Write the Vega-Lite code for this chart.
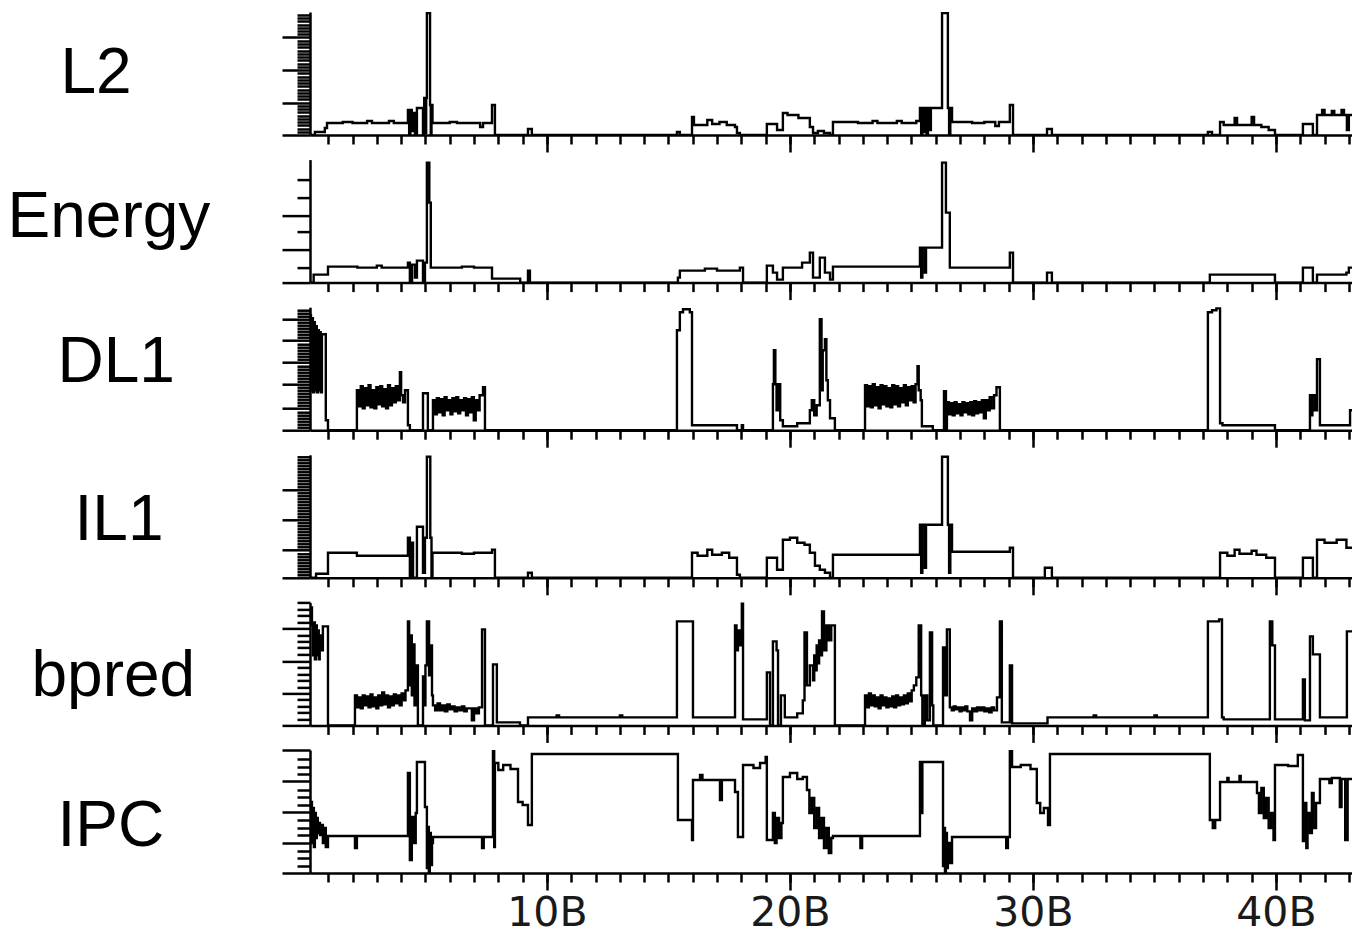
{
"$schema": "https://vega.github.io/schema/vega-lite/v6.json",
"autosize": {"type": "pad"},
"padding": {"left": 7, "top": 12, "right": 0, "bottom": 0},
"background": "white",
"spacing": 24.6,
"bounds": "flush",
"config": {"view": {"stroke": null}, "line": {"strokeWidth": 2.4}, "axis": {"grid": false, "tickColor": "black", "domainColor": "black", "tickWidth": 2.5, "domainWidth": 2.5, "titleColor": "black", "titleFont": "Liberation Sans", "titleFontWeight": "normal", "labelColor": "#1a1a1a", "labelFont": "DejaVu Sans"}},
"datasets": {
"L2": [{"x":0.25,"v":0},{"x":0.45,"v":3},{"x":0.86,"v":7},{"x":0.95,"v":12},{"x":1.6,"v":13},{"x":2.0,"v":12},{"x":2.6,"v":14},{"x":2.8,"v":12},{"x":3.5,"v":14},{"x":3.7,"v":12},{"x":4.28,"v":25},{"x":4.33,"v":0},{"x":4.38,"v":25},{"x":4.44,"v":4},{"x":4.5,"v":22},{"x":4.57,"v":0},{"x":4.65,"v":27},{"x":4.9,"v":0},{"x":4.95,"v":37},{"x":4.99,"v":2},{"x":5.03,"v":37},{"x":5.06,"v":122},{"x":5.19,"v":30},{"x":5.22,"v":0},{"x":5.25,"v":30},{"x":5.29,"v":12},{"x":6.0,"v":13},{"x":6.3,"v":12},{"x":7.25,"v":8},{"x":7.37,"v":12},{"x":7.74,"v":30},{"x":7.86,"v":0},{"x":9.22,"v":6},{"x":9.38,"v":0},{"x":15.35,"v":3},{"x":15.47,"v":0},{"x":15.97,"v":18},{"x":16.05,"v":10},{"x":16.6,"v":15},{"x":16.8,"v":11},{"x":17.1,"v":13},{"x":17.4,"v":10},{"x":17.74,"v":8},{"x":17.82,"v":2},{"x":17.94,"v":0},{"x":19.05,"v":11},{"x":19.47,"v":5},{"x":19.71,"v":22},{"x":19.9,"v":20},{"x":20.35,"v":17},{"x":20.82,"v":8},{"x":20.95,"v":2},{"x":21.15,"v":4},{"x":21.4,"v":2},{"x":21.65,"v":0},{"x":21.77,"v":13},{"x":22.8,"v":12},{"x":23.4,"v":14},{"x":23.6,"v":12},{"x":24.4,"v":14},{"x":24.6,"v":12},{"x":25.2,"v":14},{"x":25.35,"v":27},{"x":25.4,"v":0},{"x":25.45,"v":27},{"x":25.5,"v":3},{"x":25.56,"v":27},{"x":25.62,"v":0},{"x":25.68,"v":27},{"x":25.74,"v":5},{"x":25.8,"v":27},{"x":26.26,"v":122},{"x":26.5,"v":27},{"x":26.55,"v":0},{"x":26.6,"v":27},{"x":26.67,"v":13},{"x":27.5,"v":12},{"x":28.0,"v":13},{"x":28.45,"v":9},{"x":28.6,"v":13},{"x":29.05,"v":30},{"x":29.18,"v":0},{"x":30.58,"v":6},{"x":30.78,"v":0},{"x":37.2,"v":3},{"x":37.37,"v":0},{"x":37.7,"v":13},{"x":37.85,"v":10},{"x":38.3,"v":17},{"x":38.4,"v":10},{"x":39.0,"v":18},{"x":39.1,"v":10},{"x":39.4,"v":8},{"x":39.7,"v":5},{"x":39.96,"v":0},{"x":41.11,"v":11},{"x":41.52,"v":0},{"x":41.69,"v":20},{"x":41.9,"v":25},{"x":42.0,"v":20},{"x":42.3,"v":24},{"x":42.4,"v":20},{"x":42.7,"v":25},{"x":42.8,"v":20},{"x":42.92,"v":5},{"x":43.0,"v":20},{"x":43.13,"v":20}],
"Energy": [{"x":0.25,"v":0},{"x":0.4,"v":8},{"x":0.99,"v":16},{"x":2.2,"v":15},{"x":3.0,"v":17},{"x":3.2,"v":15},{"x":4.28,"v":20},{"x":4.36,"v":0},{"x":4.45,"v":18},{"x":4.57,"v":5},{"x":4.65,"v":22},{"x":4.9,"v":0},{"x":4.98,"v":20},{"x":5.06,"v":120},{"x":5.16,"v":80},{"x":5.22,"v":15},{"x":6.5,"v":16},{"x":7.0,"v":15},{"x":7.74,"v":4},{"x":8.9,"v":0},{"x":9.22,"v":12},{"x":9.3,"v":0},{"x":15.39,"v":5},{"x":15.47,"v":12},{"x":16.5,"v":14},{"x":17.0,"v":12},{"x":17.94,"v":15},{"x":18.07,"v":0},{"x":19.05,"v":17},{"x":19.3,"v":10},{"x":19.47,"v":3},{"x":19.71,"v":15},{"x":20.5,"v":20},{"x":20.82,"v":30},{"x":20.95,"v":5},{"x":21.23,"v":25},{"x":21.44,"v":10},{"x":21.65,"v":3},{"x":21.77,"v":16},{"x":25.35,"v":35},{"x":25.4,"v":5},{"x":25.45,"v":35},{"x":25.55,"v":10},{"x":25.6,"v":35},{"x":26.26,"v":120},{"x":26.42,"v":70},{"x":26.58,"v":15},{"x":29.05,"v":30},{"x":29.18,"v":0},{"x":30.58,"v":10},{"x":30.78,"v":0},{"x":37.28,"v":8},{"x":39.96,"v":0},{"x":41.11,"v":15},{"x":41.52,"v":0},{"x":41.69,"v":8},{"x":42.9,"v":10},{"x":43.0,"v":15},{"x":43.13,"v":15}],
"DL1": [{"x":0.25,"v":115},{"x":0.29,"v":40},{"x":0.33,"v":112},{"x":0.37,"v":38},{"x":0.41,"v":108},{"x":0.45,"v":40},{"x":0.49,"v":104},{"x":0.53,"v":38},{"x":0.57,"v":100},{"x":0.61,"v":40},{"x":0.65,"v":98},{"x":0.69,"v":38},{"x":0.74,"v":96},{"x":0.9,"v":10},{"x":0.99,"v":0},{"x":2.18,"v":40},{"x":2.26,"v":24},{"x":2.34,"v":44},{"x":2.42,"v":22},{"x":2.5,"v":42},{"x":2.58,"v":25},{"x":2.66,"v":45},{"x":2.74,"v":23},{"x":2.82,"v":40},{"x":2.9,"v":22},{"x":2.98,"v":43},{"x":3.06,"v":26},{"x":3.14,"v":44},{"x":3.22,"v":24},{"x":3.3,"v":41},{"x":3.38,"v":22},{"x":3.46,"v":45},{"x":3.54,"v":25},{"x":3.62,"v":42},{"x":3.7,"v":28},{"x":3.78,"v":44},{"x":3.86,"v":30},{"x":3.95,"v":58},{"x":4.0,"v":35},{"x":4.08,"v":28},{"x":4.16,"v":40},{"x":4.28,"v":5},{"x":4.36,"v":0},{"x":4.9,"v":37},{"x":5.1,"v":0},{"x":5.31,"v":30},{"x":5.39,"v":16},{"x":5.47,"v":32},{"x":5.55,"v":18},{"x":5.63,"v":31},{"x":5.71,"v":15},{"x":5.79,"v":33},{"x":5.87,"v":20},{"x":5.95,"v":30},{"x":6.03,"v":16},{"x":6.11,"v":32},{"x":6.19,"v":19},{"x":6.27,"v":33},{"x":6.35,"v":17},{"x":6.43,"v":30},{"x":6.51,"v":20},{"x":6.59,"v":32},{"x":6.67,"v":15},{"x":6.75,"v":31},{"x":6.83,"v":18},{"x":6.91,"v":33},{"x":6.99,"v":10},{"x":7.07,"v":30},{"x":7.15,"v":20},{"x":7.23,"v":35},{"x":7.37,"v":43},{"x":7.45,"v":0},{"x":15.35,"v":100},{"x":15.47,"v":118},{"x":15.6,"v":121},{"x":15.88,"v":118},{"x":15.97,"v":5},{"x":17.82,"v":0},{"x":18.02,"v":5},{"x":18.07,"v":0},{"x":19.3,"v":46},{"x":19.34,"v":80},{"x":19.4,"v":46},{"x":19.45,"v":20},{"x":19.5,"v":46},{"x":19.6,"v":10},{"x":19.71,"v":4},{"x":20.3,"v":7},{"x":20.82,"v":20},{"x":20.9,"v":30},{"x":21.0,"v":15},{"x":21.1,"v":25},{"x":21.23,"v":111},{"x":21.3,"v":40},{"x":21.35,"v":80},{"x":21.44,"v":91},{"x":21.5,"v":50},{"x":21.56,"v":30},{"x":21.65,"v":12},{"x":21.85,"v":0},{"x":23.09,"v":45},{"x":23.17,"v":24},{"x":23.25,"v":44},{"x":23.33,"v":23},{"x":23.41,"v":46},{"x":23.49,"v":25},{"x":23.57,"v":43},{"x":23.65,"v":22},{"x":23.73,"v":45},{"x":23.81,"v":26},{"x":23.89,"v":44},{"x":23.97,"v":24},{"x":24.05,"v":42},{"x":24.13,"v":23},{"x":24.21,"v":45},{"x":24.29,"v":26},{"x":24.37,"v":44},{"x":24.45,"v":24},{"x":24.53,"v":42},{"x":24.61,"v":28},{"x":24.69,"v":45},{"x":24.77,"v":25},{"x":24.85,"v":43},{"x":24.93,"v":30},{"x":25.01,"v":44},{"x":25.09,"v":28},{"x":25.17,"v":46},{"x":25.25,"v":64},{"x":25.3,"v":40},{"x":25.38,"v":30},{"x":25.43,"v":4},{"x":25.88,"v":0},{"x":26.34,"v":39},{"x":26.42,"v":0},{"x":26.46,"v":28},{"x":26.54,"v":16},{"x":26.62,"v":27},{"x":26.7,"v":15},{"x":26.78,"v":28},{"x":26.86,"v":17},{"x":26.94,"v":26},{"x":27.02,"v":15},{"x":27.1,"v":28},{"x":27.18,"v":18},{"x":27.26,"v":27},{"x":27.34,"v":16},{"x":27.42,"v":28},{"x":27.5,"v":15},{"x":27.58,"v":29},{"x":27.66,"v":17},{"x":27.74,"v":28},{"x":27.82,"v":18},{"x":27.9,"v":30},{"x":27.98,"v":12},{"x":28.06,"v":30},{"x":28.14,"v":20},{"x":28.22,"v":33},{"x":28.3,"v":22},{"x":28.4,"v":35},{"x":28.5,"v":43},{"x":28.64,"v":0},{"x":37.2,"v":118},{"x":37.37,"v":120},{"x":37.55,"v":122},{"x":37.7,"v":7},{"x":37.8,"v":5},{"x":39.96,"v":0},{"x":41.4,"v":35},{"x":41.45,"v":15},{"x":41.5,"v":35},{"x":41.6,"v":20},{"x":41.69,"v":71},{"x":41.81,"v":5},{"x":43.05,"v":20},{"x":43.13,"v":20}],
"IL1": [{"x":0.25,"v":0},{"x":0.5,"v":4},{"x":0.99,"v":25},{"x":2.18,"v":22},{"x":4.28,"v":40},{"x":4.36,"v":0},{"x":4.42,"v":35},{"x":4.49,"v":0},{"x":4.65,"v":51},{"x":4.9,"v":5},{"x":4.98,"v":40},{"x":5.06,"v":121},{"x":5.2,"v":40},{"x":5.25,"v":0},{"x":5.29,"v":25},{"x":6.5,"v":24},{"x":7.0,"v":25},{"x":7.74,"v":28},{"x":7.86,"v":0},{"x":9.22,"v":5},{"x":9.38,"v":0},{"x":15.97,"v":25},{"x":16.2,"v":22},{"x":16.6,"v":28},{"x":16.8,"v":23},{"x":17.2,"v":25},{"x":17.5,"v":20},{"x":17.82,"v":3},{"x":17.94,"v":0},{"x":19.05,"v":20},{"x":19.47,"v":8},{"x":19.71,"v":38},{"x":20.0,"v":40},{"x":20.3,"v":35},{"x":20.6,"v":33},{"x":20.82,"v":25},{"x":21.03,"v":12},{"x":21.23,"v":8},{"x":21.44,"v":5},{"x":21.65,"v":0},{"x":21.77,"v":23},{"x":25.35,"v":53},{"x":25.4,"v":5},{"x":25.45,"v":53},{"x":25.55,"v":10},{"x":25.6,"v":53},{"x":26.26,"v":121},{"x":26.5,"v":53},{"x":26.55,"v":5},{"x":26.6,"v":53},{"x":26.67,"v":26},{"x":29.05,"v":30},{"x":29.18,"v":0},{"x":30.49,"v":10},{"x":30.78,"v":0},{"x":37.7,"v":25},{"x":38.0,"v":22},{"x":38.3,"v":28},{"x":38.5,"v":24},{"x":39.0,"v":27},{"x":39.2,"v":23},{"x":39.6,"v":20},{"x":39.96,"v":0},{"x":41.11,"v":20},{"x":41.52,"v":0},{"x":41.69,"v":38},{"x":42.0,"v":35},{"x":42.5,"v":38},{"x":42.9,"v":30},{"x":43.13,"v":30}],
"bpred": [{"x":0.25,"v":118},{"x":0.33,"v":100},{"x":0.37,"v":70},{"x":0.41,"v":103},{"x":0.45,"v":66},{"x":0.49,"v":100},{"x":0.53,"v":70},{"x":0.57,"v":95},{"x":0.61,"v":66},{"x":0.65,"v":90},{"x":0.7,"v":75},{"x":0.78,"v":99},{"x":0.99,"v":0},{"x":2.1,"v":30},{"x":2.18,"v":18},{"x":2.26,"v":28},{"x":2.34,"v":17},{"x":2.42,"v":30},{"x":2.5,"v":20},{"x":2.58,"v":29},{"x":2.66,"v":18},{"x":2.74,"v":31},{"x":2.82,"v":19},{"x":2.9,"v":28},{"x":2.98,"v":17},{"x":3.06,"v":30},{"x":3.14,"v":20},{"x":3.22,"v":33},{"x":3.3,"v":21},{"x":3.38,"v":30},{"x":3.46,"v":18},{"x":3.54,"v":29},{"x":3.62,"v":20},{"x":3.7,"v":31},{"x":3.78,"v":22},{"x":3.86,"v":30},{"x":3.94,"v":20},{"x":4.02,"v":32},{"x":4.1,"v":25},{"x":4.18,"v":35},{"x":4.28,"v":104},{"x":4.33,"v":40},{"x":4.38,"v":90},{"x":4.44,"v":30},{"x":4.49,"v":81},{"x":4.55,"v":20},{"x":4.6,"v":60},{"x":4.69,"v":0},{"x":4.9,"v":49},{"x":4.95,"v":20},{"x":5.0,"v":60},{"x":5.06,"v":104},{"x":5.15,"v":50},{"x":5.2,"v":80},{"x":5.27,"v":30},{"x":5.31,"v":20},{"x":5.4,"v":15},{"x":5.5,"v":22},{"x":5.6,"v":15},{"x":5.7,"v":20},{"x":5.8,"v":14},{"x":5.9,"v":21},{"x":6.0,"v":16},{"x":6.1,"v":19},{"x":6.2,"v":14},{"x":6.3,"v":18},{"x":6.4,"v":15},{"x":6.5,"v":19},{"x":6.6,"v":14},{"x":6.7,"v":17},{"x":6.91,"v":5},{"x":7.0,"v":17},{"x":7.1,"v":12},{"x":7.2,"v":18},{"x":7.33,"v":96},{"x":7.45,"v":0},{"x":7.78,"v":61},{"x":7.94,"v":3},{"x":8.89,"v":0},{"x":9.22,"v":8},{"x":10.4,"v":10},{"x":10.5,"v":8},{"x":13.0,"v":10},{"x":13.1,"v":8},{"x":15.35,"v":104},{"x":15.97,"v":104},{"x":16.01,"v":8},{"x":17.74,"v":100},{"x":17.8,"v":75},{"x":17.86,"v":95},{"x":17.94,"v":80},{"x":18.02,"v":123},{"x":18.07,"v":6},{"x":19.05,"v":53},{"x":19.18,"v":0},{"x":19.3,"v":84},{"x":19.45,"v":75},{"x":19.51,"v":0},{"x":19.63,"v":30},{"x":19.79,"v":8},{"x":20.3,"v":12},{"x":20.53,"v":25},{"x":20.6,"v":93},{"x":20.7,"v":40},{"x":20.82,"v":60},{"x":20.95,"v":45},{"x":21.0,"v":70},{"x":21.05,"v":55},{"x":21.1,"v":80},{"x":21.15,"v":62},{"x":21.2,"v":85},{"x":21.26,"v":70},{"x":21.32,"v":114},{"x":21.4,"v":75},{"x":21.5,"v":100},{"x":21.6,"v":85},{"x":21.7,"v":100},{"x":21.85,"v":0},{"x":23.09,"v":30},{"x":23.17,"v":18},{"x":23.25,"v":32},{"x":23.33,"v":20},{"x":23.41,"v":30},{"x":23.49,"v":19},{"x":23.57,"v":28},{"x":23.65,"v":17},{"x":23.73,"v":30},{"x":23.81,"v":20},{"x":23.89,"v":28},{"x":23.97,"v":18},{"x":24.05,"v":27},{"x":24.13,"v":19},{"x":24.21,"v":29},{"x":24.29,"v":18},{"x":24.37,"v":30},{"x":24.45,"v":20},{"x":24.53,"v":28},{"x":24.61,"v":21},{"x":24.69,"v":30},{"x":24.77,"v":22},{"x":24.85,"v":32},{"x":24.93,"v":24},{"x":25.01,"v":35},{"x":25.1,"v":40},{"x":25.2,"v":48},{"x":25.3,"v":100},{"x":25.4,"v":30},{"x":25.45,"v":0},{"x":25.55,"v":30},{"x":25.65,"v":5},{"x":25.76,"v":93},{"x":25.85,"v":20},{"x":25.9,"v":0},{"x":26.3,"v":78},{"x":26.38,"v":30},{"x":26.46,"v":96},{"x":26.58,"v":18},{"x":26.66,"v":15},{"x":26.74,"v":19},{"x":26.82,"v":16},{"x":26.9,"v":18},{"x":26.98,"v":14},{"x":27.06,"v":18},{"x":27.14,"v":15},{"x":27.22,"v":19},{"x":27.3,"v":14},{"x":27.41,"v":5},{"x":27.5,"v":17},{"x":27.6,"v":14},{"x":27.7,"v":18},{"x":27.8,"v":15},{"x":27.9,"v":18},{"x":28.0,"v":14},{"x":28.1,"v":17},{"x":28.2,"v":13},{"x":28.3,"v":18},{"x":28.4,"v":15},{"x":28.52,"v":28},{"x":28.64,"v":104},{"x":28.72,"v":3},{"x":29.05,"v":60},{"x":29.14,"v":2},{"x":30.6,"v":8},{"x":32.5,"v":10},{"x":32.6,"v":8},{"x":35.0,"v":10},{"x":35.1,"v":8},{"x":37.2,"v":104},{"x":37.66,"v":106},{"x":37.78,"v":8},{"x":37.85,"v":6},{"x":39.75,"v":104},{"x":39.85,"v":80},{"x":39.96,"v":6},{"x":41.11,"v":46},{"x":41.19,"v":5},{"x":41.4,"v":89},{"x":41.52,"v":71},{"x":41.81,"v":8},{"x":42.92,"v":94},{"x":43.13,"v":94}],
"IPC": [{"x":0.25,"v":50},{"x":0.29,"v":71},{"x":0.33,"v":30},{"x":0.37,"v":65},{"x":0.41,"v":26},{"x":0.45,"v":60},{"x":0.49,"v":35},{"x":0.53,"v":55},{"x":0.57,"v":40},{"x":0.62,"v":50},{"x":0.66,"v":38},{"x":0.7,"v":48},{"x":0.78,"v":30},{"x":0.82,"v":45},{"x":0.9,"v":26},{"x":0.99,"v":37},{"x":2.1,"v":25},{"x":2.18,"v":37},{"x":4.28,"v":100},{"x":4.36,"v":13},{"x":4.44,"v":56},{"x":4.52,"v":30},{"x":4.6,"v":60},{"x":4.65,"v":111},{"x":4.98,"v":66},{"x":5.06,"v":5},{"x":5.1,"v":46},{"x":5.14,"v":0},{"x":5.18,"v":40},{"x":5.22,"v":8},{"x":5.27,"v":30},{"x":5.31,"v":36},{"x":7.33,"v":25},{"x":7.4,"v":36},{"x":7.78,"v":123},{"x":7.83,"v":26},{"x":7.86,"v":110},{"x":8.0,"v":103},{"x":8.2,"v":108},{"x":8.5,"v":104},{"x":8.81,"v":71},{"x":9.0,"v":68},{"x":9.22,"v":48},{"x":9.38,"v":119},{"x":15.39,"v":53},{"x":15.97,"v":33},{"x":16.01,"v":93},{"x":16.3,"v":98},{"x":16.4,"v":93},{"x":17.12,"v":73},{"x":17.2,"v":93},{"x":17.74,"v":81},{"x":17.86,"v":36},{"x":18.07,"v":108},{"x":18.5,"v":105},{"x":18.77,"v":110},{"x":19.0,"v":116},{"x":19.05,"v":33},{"x":19.3,"v":60},{"x":19.38,"v":30},{"x":19.45,"v":55},{"x":19.55,"v":35},{"x":19.65,"v":50},{"x":19.71,"v":96},{"x":20.0,"v":100},{"x":20.3,"v":94},{"x":20.53,"v":96},{"x":20.7,"v":83},{"x":20.8,"v":60},{"x":20.9,"v":75},{"x":21.0,"v":45},{"x":21.1,"v":65},{"x":21.2,"v":35},{"x":21.3,"v":55},{"x":21.4,"v":25},{"x":21.5,"v":45},{"x":21.6,"v":20},{"x":21.7,"v":35},{"x":21.77,"v":37},{"x":22.9,"v":25},{"x":22.97,"v":37},{"x":25.35,"v":111},{"x":25.4,"v":60},{"x":25.45,"v":111},{"x":26.3,"v":7},{"x":26.34,"v":45},{"x":26.38,"v":0},{"x":26.42,"v":40},{"x":26.46,"v":5},{"x":26.5,"v":30},{"x":26.58,"v":10},{"x":26.67,"v":36},{"x":28.9,"v":25},{"x":28.97,"v":36},{"x":29.05,"v":123},{"x":29.14,"v":106},{"x":29.5,"v":108},{"x":29.9,"v":104},{"x":30.16,"v":70},{"x":30.3,"v":60},{"x":30.45,"v":65},{"x":30.62,"v":48},{"x":30.7,"v":119},{"x":37.28,"v":53},{"x":37.4,"v":45},{"x":37.5,"v":53},{"x":37.7,"v":91},{"x":38.0,"v":95},{"x":38.05,"v":91},{"x":38.5,"v":97},{"x":38.55,"v":91},{"x":39.22,"v":80},{"x":39.3,"v":60},{"x":39.4,"v":85},{"x":39.5,"v":55},{"x":39.6,"v":75},{"x":39.7,"v":45},{"x":39.8,"v":60},{"x":39.9,"v":33},{"x":39.96,"v":108},{"x":40.5,"v":107},{"x":40.9,"v":118},{"x":41.11,"v":32},{"x":41.2,"v":70},{"x":41.25,"v":25},{"x":41.3,"v":60},{"x":41.4,"v":40},{"x":41.48,"v":80},{"x":41.55,"v":45},{"x":41.65,"v":70},{"x":41.81,"v":94},{"x":42.2,"v":90},{"x":42.3,"v":95},{"x":42.63,"v":66},{"x":42.7,"v":94},{"x":42.85,"v":33},{"x":42.95,"v":94},{"x":43.13,"v":94}]
},
"vconcat": [
{"width": 1042, "height": 123, "data": {"name": "L2"},
 "resolve": {"axis": {"x": "independent", "y": "independent"}},
 "layer": [
  {"mark": {"type": "line", "interpolate": "step-after", "color": "black", "clip": true},
   "encoding": {
    "x": {"field": "x", "type": "quantitative", "scale": {"domain": [0.25, 43.13], "nice": false, "zero": false}, "axis": {"orient": "bottom", "values": [1,2,3,4,5,6,7,8,9,10,11,12,13,14,15,16,17,18,19,20,21,22,23,24,25,26,27,28,29,30,31,32,33,34,35,36,37,38,39,40,41,42,43], "tickSize": 9, "labels": false, "title": null, "domain": true}},
    "y": {"field": "v", "type": "quantitative", "scale": {"domain": [0, 123], "nice": false}, "axis": {"orient": "left", "values": [3.25,6.5,9.75,13,16.25,19.5,22.75,26,29.25,35.75,39,42.25,45.5,48.75,52,55.25,58.5,61.75,68.25,71.5,74.75,78,81.25,84.5,87.75,91,94.25,100.75,104,107.25,110.5,113.75,117,120.25], "tickSize": 13, "labels": false, "domain": true, "title": "L2", "titleAngle": 0, "titleFontSize": 64, "titleAlign": "left", "titleBaseline": "middle", "titleX": -250, "titleY": 61}}
   }},
  {"mark": {"type": "line", "interpolate": "step-after", "color": "black", "opacity": 0, "clip": true},
   "encoding": {
    "x": {"field": "x", "type": "quantitative", "axis": {"orient": "bottom", "values": [10,20,30,40], "tickSize": 17, "labels": false, "title": null, "domain": false}},
    "y": {"field": "v", "type": "quantitative", "axis": {"orient": "left", "values": [0, 32.5, 65, 97.5], "tickSize": 28, "labels": false, "domain": false, "title": null}}
   }}
 ]},
{"width": 1042, "height": 123, "data": {"name": "Energy"},
 "resolve": {"axis": {"x": "independent", "y": "independent"}},
 "layer": [
  {"mark": {"type": "line", "interpolate": "step-after", "color": "black", "clip": true},
   "encoding": {
    "x": {"field": "x", "type": "quantitative", "scale": {"domain": [0.25, 43.13], "nice": false, "zero": false}, "axis": {"orient": "bottom", "values": [1,2,3,4,5,6,7,8,9,10,11,12,13,14,15,16,17,18,19,20,21,22,23,24,25,26,27,28,29,30,31,32,33,34,35,36,37,38,39,40,41,42,43], "tickSize": 9, "labels": false, "title": null, "domain": true}},
    "y": {"field": "v", "type": "quantitative", "scale": {"domain": [0, 123], "nice": false}, "axis": {"orient": "left", "values": [15, 51, 85, 103], "tickSize": 13, "labels": false, "domain": true, "title": "Energy", "titleAngle": 0, "titleFontSize": 64, "titleAlign": "left", "titleBaseline": "middle", "titleX": -303, "titleY": 58}}
   }},
  {"mark": {"type": "line", "interpolate": "step-after", "color": "black", "opacity": 0, "clip": true},
   "encoding": {
    "x": {"field": "x", "type": "quantitative", "axis": {"orient": "bottom", "values": [10,20,30,40], "tickSize": 17, "labels": false, "title": null, "domain": false}},
    "y": {"field": "v", "type": "quantitative", "axis": {"orient": "left", "values": [0, 33, 67], "tickSize": 28, "labels": false, "domain": false, "title": null}}
   }}
 ]},
{"width": 1042, "height": 123, "data": {"name": "DL1"},
 "resolve": {"axis": {"x": "independent", "y": "independent"}},
 "layer": [
  {"mark": {"type": "line", "interpolate": "step-after", "color": "black", "clip": true},
   "encoding": {
    "x": {"field": "x", "type": "quantitative", "scale": {"domain": [0.25, 43.13], "nice": false, "zero": false}, "axis": {"orient": "bottom", "values": [1,2,3,4,5,6,7,8,9,10,11,12,13,14,15,16,17,18,19,20,21,22,23,24,25,26,27,28,29,30,31,32,33,34,35,36,37,38,39,40,41,42,43], "tickSize": 9, "labels": false, "title": null, "domain": true}},
    "y": {"field": "v", "type": "quantitative", "scale": {"domain": [0, 123], "nice": false}, "axis": {"orient": "left", "values": [3,6,9,12,15,18,25,28,31,34,37,40,43,49,52,55,58,61,64,71,74,77,80,83,86,93,96,99,102,105,108,114,117,120], "tickSize": 13, "labels": false, "domain": true, "title": "DL1", "titleAngle": 0, "titleFontSize": 64, "titleAlign": "left", "titleBaseline": "middle", "titleX": -253, "titleY": 55}}
   }},
  {"mark": {"type": "line", "interpolate": "step-after", "color": "black", "opacity": 0, "clip": true},
   "encoding": {
    "x": {"field": "x", "type": "quantitative", "axis": {"orient": "bottom", "values": [10,20,30,40], "tickSize": 17, "labels": false, "title": null, "domain": false}},
    "y": {"field": "v", "type": "quantitative", "axis": {"orient": "left", "values": [0, 22, 46, 68, 90, 111], "tickSize": 28, "labels": false, "domain": false, "title": null}}
   }}
 ]},
{"width": 1042, "height": 123, "data": {"name": "IL1"},
 "resolve": {"axis": {"x": "independent", "y": "independent"}},
 "layer": [
  {"mark": {"type": "line", "interpolate": "step-after", "color": "black", "clip": true},
   "encoding": {
    "x": {"field": "x", "type": "quantitative", "scale": {"domain": [0.25, 43.13], "nice": false, "zero": false}, "axis": {"orient": "bottom", "values": [1,2,3,4,5,6,7,8,9,10,11,12,13,14,15,16,17,18,19,20,21,22,23,24,25,26,27,28,29,30,31,32,33,34,35,36,37,38,39,40,41,42,43], "tickSize": 9, "labels": false, "title": null, "domain": true}},
    "y": {"field": "v", "type": "quantitative", "scale": {"domain": [0, 123], "nice": false}, "axis": {"orient": "left", "values": [3,6,9,12,15,18,21,24,31,34,37,40,43,46,49,52,55,61,64,67,70,73,76,79,82,85,91,94,97,100,103,106,109,112,115,118,121], "tickSize": 13, "labels": false, "domain": true, "title": "IL1", "titleAngle": 0, "titleFontSize": 64, "titleAlign": "left", "titleBaseline": "middle", "titleX": -236, "titleY": 66}}
   }},
  {"mark": {"type": "line", "interpolate": "step-after", "color": "black", "opacity": 0, "clip": true},
   "encoding": {
    "x": {"field": "x", "type": "quantitative", "axis": {"orient": "bottom", "values": [10,20,30,40], "tickSize": 17, "labels": false, "title": null, "domain": false}},
    "y": {"field": "v", "type": "quantitative", "axis": {"orient": "left", "values": [0, 28, 58, 88], "tickSize": 28, "labels": false, "domain": false, "title": null}}
   }}
 ]},
{"width": 1042, "height": 123, "data": {"name": "bpred"},
 "resolve": {"axis": {"x": "independent", "y": "independent"}},
 "layer": [
  {"mark": {"type": "line", "interpolate": "step-after", "color": "black", "clip": true},
   "encoding": {
    "x": {"field": "x", "type": "quantitative", "scale": {"domain": [0.25, 43.13], "nice": false, "zero": false}, "axis": {"orient": "bottom", "values": [1,2,3,4,5,6,7,8,9,10,11,12,13,14,15,16,17,18,19,20,21,22,23,24,25,26,27,28,29,30,31,32,33,34,35,36,37,38,39,40,41,42,43], "tickSize": 9, "labels": false, "title": null, "domain": true}},
    "y": {"field": "v", "type": "quantitative", "scale": {"domain": [0, 123], "nice": false}, "axis": {"orient": "left", "values": [6.5,13,19.5,26,38.5,45,51.5,58,71,77.5,84,90.5,103,109.5,116,122.5], "tickSize": 13, "labels": false, "domain": true, "title": "bpred", "titleAngle": 0, "titleFontSize": 64, "titleAlign": "left", "titleBaseline": "middle", "titleX": -279, "titleY": 74}}
   }},
  {"mark": {"type": "line", "interpolate": "step-after", "color": "black", "opacity": 0, "clip": true},
   "encoding": {
    "x": {"field": "x", "type": "quantitative", "axis": {"orient": "bottom", "values": [10,20,30,40], "tickSize": 17, "labels": false, "title": null, "domain": false}},
    "y": {"field": "v", "type": "quantitative", "axis": {"orient": "left", "values": [0, 32, 64.5, 97], "tickSize": 28, "labels": false, "domain": false, "title": null}}
   }}
 ]},
{"width": 1042, "height": 123, "data": {"name": "IPC"},
 "resolve": {"axis": {"x": "independent", "y": "independent"}},
 "layer": [
  {"mark": {"type": "line", "interpolate": "step-after", "color": "black", "clip": true},
   "encoding": {
    "x": {"field": "x", "type": "quantitative", "scale": {"domain": [0.25, 43.13], "nice": false, "zero": false}, "axis": {"orient": "bottom", "values": [1,2,3,4,5,6,7,8,9,10,11,12,13,14,15,16,17,18,19,20,21,22,23,24,25,26,27,28,29,30,31,32,33,34,35,36,37,38,39,40,41,42,43], "tickSize": 9, "labels": false, "title": null, "domain": true}},
    "y": {"field": "v", "type": "quantitative", "scale": {"domain": [0, 123], "nice": false}, "axis": {"orient": "left", "values": [7.5,15,22.5,38,45.5,53,68.5,76,83.5,99,106.5,114], "tickSize": 13, "labels": false, "domain": true, "title": "IPC", "titleAngle": 0, "titleFontSize": 64, "titleAlign": "left", "titleBaseline": "middle", "titleX": -253, "titleY": 76}}
   }},
  {"mark": {"type": "line", "interpolate": "step-after", "color": "black", "opacity": 0, "clip": true},
   "encoding": {
    "x": {"field": "x", "type": "quantitative", "axis": {"orient": "bottom", "values": [10,20,30,40], "tickSize": 17, "labels": true, "labelExpr": "datum.value + 'B'", "labelFontSize": 41, "labelPadding": 3, "labelFlush": false, "labelOverlap": false, "title": null, "domain": false}},
    "y": {"field": "v", "type": "quantitative", "axis": {"orient": "left", "values": [0, 30, 61, 92, 123], "tickSize": 28, "labels": false, "domain": false, "title": null}}
   }}
 ]}
]
}
